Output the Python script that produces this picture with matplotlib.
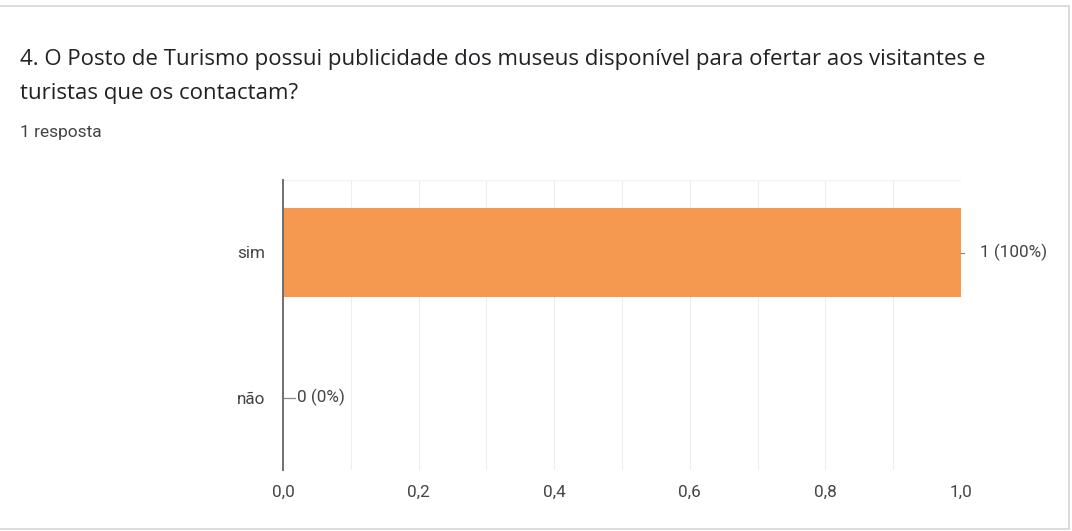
import matplotlib
matplotlib.use("Agg")
import matplotlib.pyplot as plt
from matplotlib.patches import Rectangle

TITLE_1 = "4. O Posto de Turismo possui publicidade dos museus disponível para ofertar aos visitantes e"
TITLE_2 = "turistas que os contactam?"
SUBTITLE = "1 resposta"
CATEGORIES = ["sim", "não"]
COUNTS = [1, 0]
PERCENTS = [100, 0]
XTICKS = [0.0, 0.2, 0.4, 0.6, 0.8, 1.0]

BAR_COLOR = "#f4994f"
TEXT_DARK = "#202124"
TEXT_GRAY = "#444444"

plt.rcParams["font.family"] = ["Roboto", "DejaVu Sans"]

fig = plt.figure(figsize=(10.72, 5.31), dpi=100)
W, H = 1072, 531

# card border
fig.patches.append(Rectangle((-0.01, 2 / H), 1069.5 / W + 0.01, 523 / H,
                             transform=fig.transFigure, fill=False,
                             edgecolor="#d6d6d6", linewidth=1.2))

fig.text(20 / W, 1 - 60 / H, TITLE_1, fontsize=16, color=TEXT_DARK, va="center",
         family=["Open Sans", "DejaVu Sans"])
fig.text(20 / W, 1 - 93 / H, TITLE_2, fontsize=16, color=TEXT_DARK, va="center",
         family=["Open Sans", "DejaVu Sans"])
fig.text(20 / W, 1 - 133 / H, SUBTITLE, fontsize=12.5, color=TEXT_GRAY, va="center")

left, right, top, bottom = 283, 961, 180, 470
ax = fig.add_axes([left / W, 1 - bottom / H, (right - left) / W, (bottom - top) / H])

ypos = list(range(len(CATEGORIES)))
ax.barh(ypos, COUNTS, height=0.61, color=BAR_COLOR, zorder=2)
ax.set_ylim(len(CATEGORIES) - 0.5, -0.5)
ax.set_xlim(0, 1.0)

# light gridlines every 0.1
for g in [i / 10 for i in range(1, 11)]:
    ax.axvline(g, color="#ededed", linewidth=0.8, zorder=0)
ax.axhline(-0.5, color="#f2f2f2", linewidth=0.8, zorder=0)

for y, c, p in zip(ypos, COUNTS, PERCENTS):
    seg = 0.004 if c else 0.017
    ax.plot([c, c + seg], [y, y], color="#888888", linewidth=0.9,
            clip_on=False, zorder=3)
    ax.annotate(f"{c} ({p}%)", xy=(c, y), xytext=(14 if c else 10, 0),
                textcoords="offset points", va="center", ha="left",
                fontsize=12.3, color=TEXT_GRAY, annotation_clip=False)

ax.set_yticks(ypos)
ax.set_yticklabels(CATEGORIES)
ax.set_xticks(XTICKS)
ax.set_xticklabels([f"{t:.1f}".replace(".", ",") for t in XTICKS])
ax.tick_params(axis="both", length=0, labelsize=12.3, labelcolor=TEXT_GRAY)
ax.tick_params(axis="y", pad=13)
ax.tick_params(axis="x", pad=11)

for s in ["top", "right", "bottom"]:
    ax.spines[s].set_visible(False)
ax.spines["left"].set_color("#6f6f6f")
ax.spines["left"].set_linewidth(1.4)
ax.spines["left"].set_zorder(4)

fig.savefig("out.png", dpi=100, facecolor="white")
